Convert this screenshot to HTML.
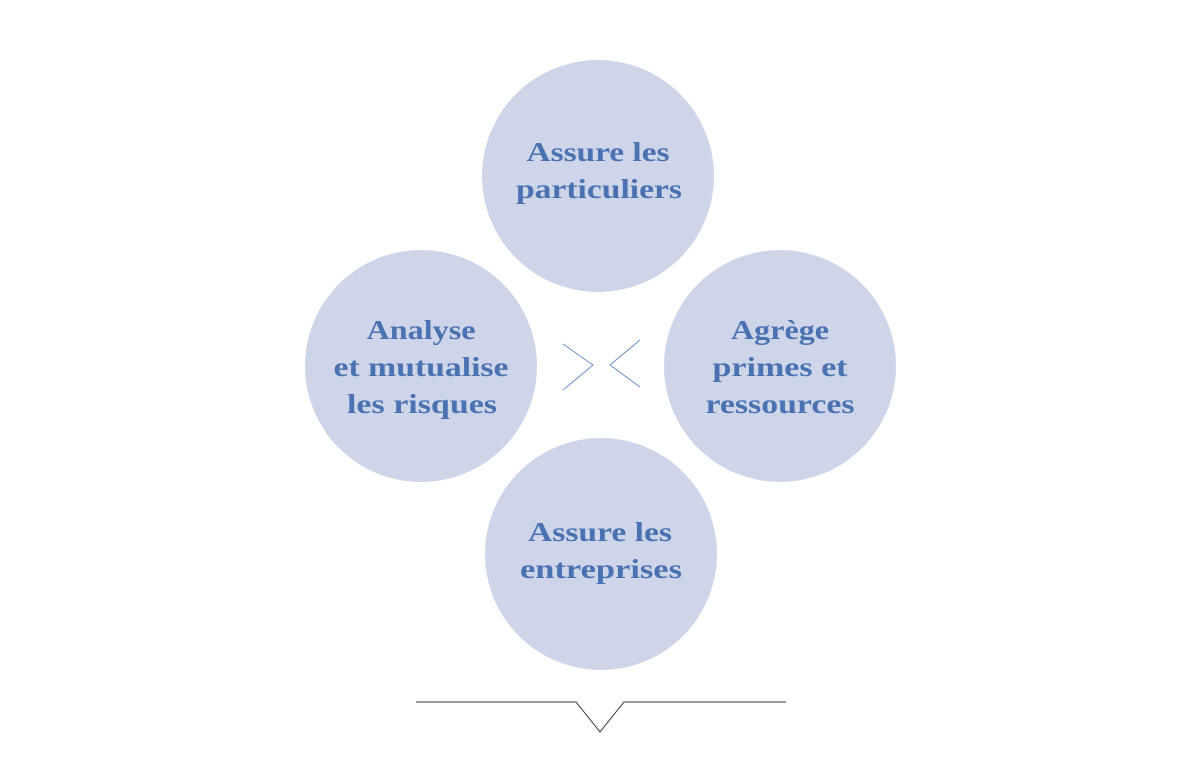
<!DOCTYPE html>
<html><head><style>
html,body{margin:0;padding:0;background:#fff;}
svg{display:block;}
text{font-family:"Liberation Serif",serif;font-weight:bold;font-size:27px;fill:#4a72b3;text-anchor:middle;}
</style></head><body>
<svg width="1201" height="777" viewBox="0 0 1201 777">
<g fill="#cfd5e9">
<circle cx="598" cy="176" r="116"/>
<circle cx="421" cy="366" r="116"/>
<circle cx="780" cy="366" r="116"/>
<circle cx="601" cy="554" r="116"/>
</g>
<g fill="none" stroke="#6c8fca" stroke-width="1">
<polyline points="563,344 593,365 563,390"/>
<polyline points="640,340 610,365 640,387"/>
</g>
<polyline points="416,702 576,702 600,732 624,702 786,702" fill="none" stroke="#333" stroke-width="1"/>
<g lengthAdjust="spacingAndGlyphs">
<text x="598" y="161" textLength="143" lengthAdjust="spacingAndGlyphs">Assure les</text>
<text x="599" y="198" textLength="166" lengthAdjust="spacingAndGlyphs">particuliers</text>
<text x="421" y="339" textLength="109" lengthAdjust="spacingAndGlyphs">Analyse</text>
<text x="421" y="376" textLength="175" lengthAdjust="spacingAndGlyphs">et mutualise</text>
<text x="422" y="413" textLength="150" lengthAdjust="spacingAndGlyphs">les risques</text>
<text x="780" y="339" textLength="98" lengthAdjust="spacingAndGlyphs">Agrège</text>
<text x="780" y="376" textLength="135" lengthAdjust="spacingAndGlyphs">primes et</text>
<text x="780" y="413" textLength="149" lengthAdjust="spacingAndGlyphs">ressources</text>
<text x="600" y="541" textLength="144" lengthAdjust="spacingAndGlyphs">Assure les</text>
<text x="601" y="578" textLength="162" lengthAdjust="spacingAndGlyphs">entreprises</text>
</g>
</svg>
</body></html>
